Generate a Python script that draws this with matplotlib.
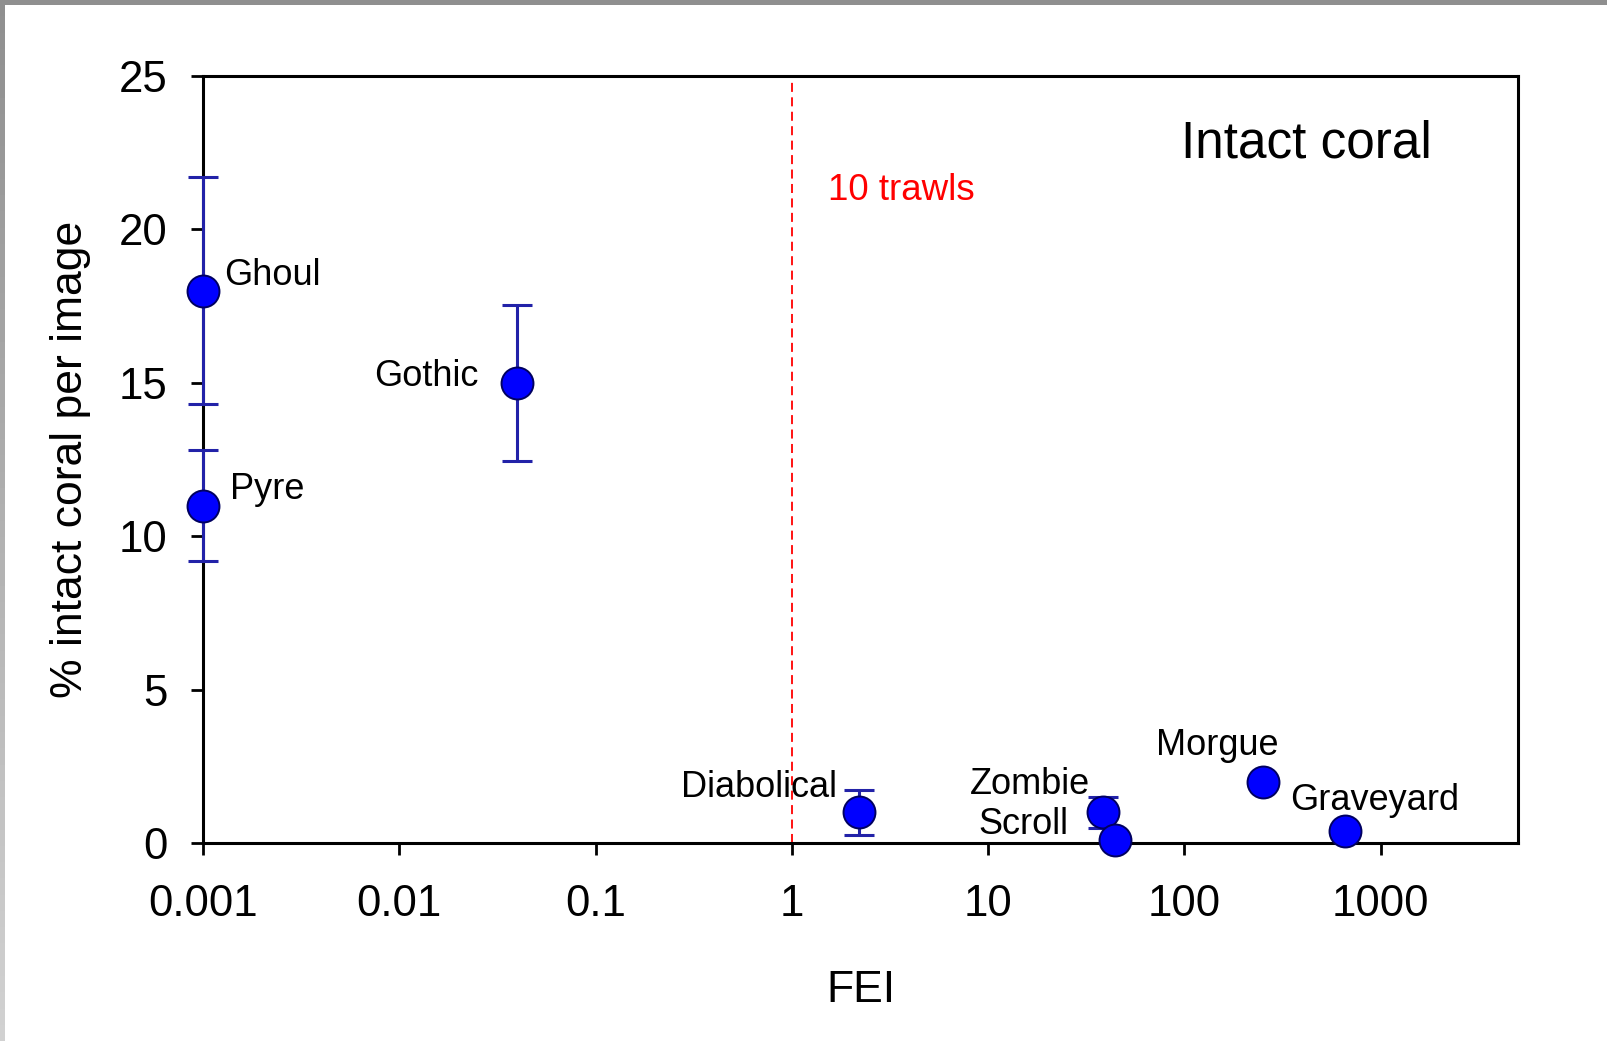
import numpy as np
import matplotlib
matplotlib.use("Agg")
import matplotlib.pyplot as plt

plt.rcParams['font.family'] = ['Liberation Sans', 'DejaVu Sans']

# Sites: fishing effort index (FEI) vs % intact coral per image
sites = ["Ghoul", "Pyre", "Gothic", "Diabolical", "Zombie", "Scroll", "Morgue", "Graveyard"]
fei = [0.001, 0.001, 0.04, 2.2, 38.5, 44.0, 250.0, 660.0]
intact = [18.0, 11.0, 15.0, 1.0, 1.0, 0.1, 2.0, 0.4]
err = [3.7, 1.8, 2.55, 0.73, 0.5, 0.0, 0.0, 0.0]

xticks = [0.001, 0.01, 0.1, 1, 10, 100, 1000]
xticklabels = ["0.001", "0.01", "0.1", "1", "10", "100", "1000"]
yticks = [0, 5, 10, 15, 20, 25]

trawl_threshold = 1.0

# label offsets (points) and alignment for each site name
label_offsets = {
    "Ghoul": (15, 4.5, "left"),
    "Pyre": (19.5, 5, "left"),
    "Gothic": (-28, -2, "right"),
    "Diabolical": (-16, 11, "right"),
    "Zombie": (-9.5, 13, "right"),
    "Scroll": (-33, 4.5, "right"),
    "Morgue": (-33, 19, "center"),
    "Graveyard": (-40, 15, "left"),
}

fig = plt.figure(figsize=(16.07, 10.41), dpi=100)
fig.patch.set_facecolor("white")

# grey frame along the top and left edges
frame_top = fig.add_axes([0, 1 - 5 / 1041, 1, 5 / 1041])
frame_top.imshow([[0.56, 0.56]], cmap="gray", vmin=0, vmax=1, aspect="auto")
frame_top.axis("off")
frame_left = fig.add_axes([0, 0, 5 / 1607, 1])
grad = np.linspace(0.82, 0.56, 64).reshape(-1, 1)
frame_left.imshow(grad, cmap="gray", vmin=0, vmax=1, aspect="auto", origin="lower")
frame_left.axis("off")

ax = fig.add_axes([203 / 1607, (1041 - 843) / 1041, (1518 - 203) / 1607, (843 - 76) / 1041])
ax.set_xscale("log")
ax.set_xlim(0.001, 5000)
ax.set_ylim(0, 25)

for s, x, y, e in zip(sites, fei, intact, err):
    if e > 0:
        ax.errorbar(x, y, yerr=e, fmt="none", ecolor="#2222a8", elinewidth=2.2,
                    capsize=10.5, capthick=2.2, clip_on=False, zorder=3)
    ax.plot(x, y, "o", ms=23, mfc="#0000ff", mec="#000060", mew=1.4,
            clip_on=False, zorder=4)
    dx, dy, ha = label_offsets[s]
    ax.annotate(s, (x, y), xytext=(dx, dy), textcoords="offset points",
                ha=ha, va="baseline", fontsize=26, color="black", zorder=5)

ax.axvline(trawl_threshold, color="red", lw=1.3, dashes=(5, 3), zorder=2)
ax.annotate("10 trawls", (trawl_threshold, 0.838), xycoords=("data", "axes fraction"),
            xytext=(26, 0), textcoords="offset points", ha="left", va="baseline",
            fontsize=26.5, color="red")
ax.text(0.839, 0.894, "Intact coral", transform=ax.transAxes, ha="center",
        va="baseline", fontsize=37, color="black")

ax.set_xticks(xticks)
ax.set_xticklabels(xticklabels)
ax.xaxis.set_minor_locator(matplotlib.ticker.NullLocator())
ax.set_yticks(yticks)
ax.tick_params(axis="both", which="major", direction="out", length=8.6, width=2,
               labelsize=31.5, color="black")
ax.tick_params(axis="x", pad=21)
ax.tick_params(axis="y", pad=17)
for sp in ax.spines.values():
    sp.set_linewidth(2.2)
    sp.set_color("black")

ax.set_xlabel("FEI", fontsize=32, labelpad=32)
ax.set_ylabel("% intact coral per image", fontsize=32, labelpad=20)

fig.savefig("out.png", dpi=100)
